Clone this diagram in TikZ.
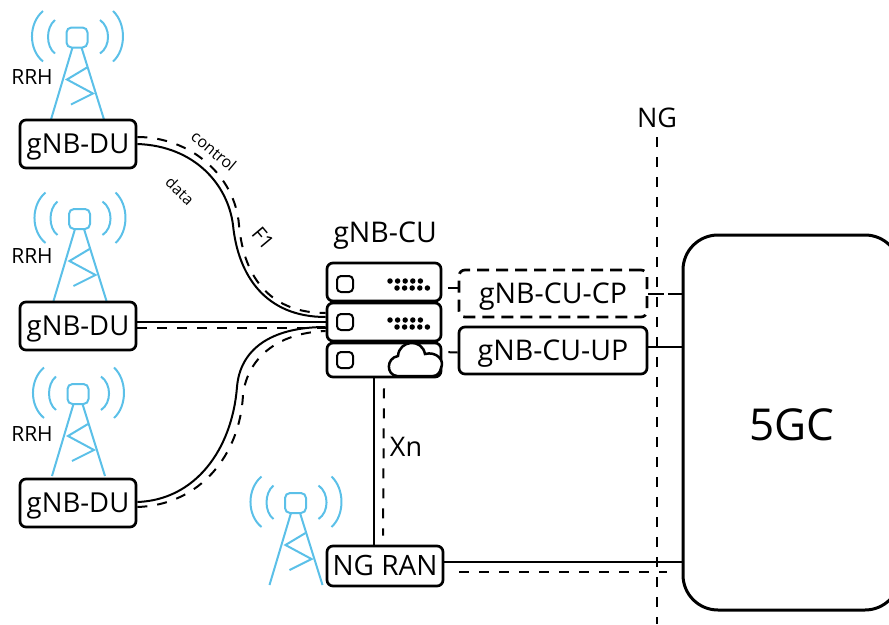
\documentclass[tikz,border=0pt]{standalone}
\usepackage{fontspec}
\setmainfont{Open Sans}
\usepackage{xcolor}
\usetikzlibrary{calc}
\definecolor{towerblue}{RGB}{91,192,232}
\tikzstyle{boxed}=[draw=black,fill=white,line width=2.7pt,rounded corners=6pt,inner sep=0pt,text height=19.6pt,text depth=0pt,font=\fontsize{28}{28}\selectfont]
\tikzstyle{server}=[draw=black,fill=white,line width=2.7pt,rounded corners=6pt,inner sep=0pt,minimum width=114pt]
\tikzstyle{link}=[line width=2pt]
\tikzstyle{dashlink}=[line width=2pt,dash pattern=on 10pt off 10pt]
\tikzstyle{stub}=[line width=2pt,dash pattern=on 0pt off 6pt on 10pt off 10pt]
\tikzstyle{dot}=[fill=black,circle,inner sep=0pt,minimum size=5.5pt]
\tikzset{rrhtower/.pic={
    \draw[towerblue,line width=2pt,rounded corners=5pt] (-10.5,-10) rectangle (10.5,10);
    \draw[towerblue,line width=2pt] (-4.5,10) -- (-26,82) (4.5,10) -- (27,82);
    \draw[towerblue,line width=2pt] (10,30) -- (-10,42) -- (16,56) -- (-6,67);
    \draw[towerblue,line width=2pt] (-22,-17.5) .. controls (-31.3,-10) and (-31.3,9) .. (-22,16);
    \draw[towerblue,line width=2pt] (-34,-26.5) .. controls (-48.7,-14) and (-48.7,12) .. (-34,24);
    \draw[towerblue,line width=2pt] (23,-17.5) .. controls (33.7,-10) and (33.7,9) .. (23,16);
    \draw[towerblue,line width=2pt] (36,-26.5) .. controls (49.3,-14) and (49.3,12) .. (36,24);
}}
\begin{document}
\begin{tikzpicture}[x=1pt,y=-1pt]
        \useasboundingbox (0,0) rectangle (889,624);

        \foreach \i/\x/\y in {1/77/37.5,2/79.5/219,3/78/394,4/295.5/503}{
          \pic at (\x,\y) {rrhtower};
        }
        \foreach \i/\y/\ly in {1/144/77,2/326/256,3/503/434}{
          \node[boxed,font=\fontsize{27.5}{27.5}\selectfont,minimum width=116pt,minimum height=48pt] (du\i) at (78,\y) {gNB-DU};
          \node[font=\fontsize{21}{21}\selectfont] (rrh\i) at (32,\ly) {RRH};
        }

        \node[server,minimum height=38pt] (cua) at (384,282) {};
        \node[server,minimum height=38pt] (cub) at (384,322) {};
        \node[server,minimum height=34pt] (cuc) at (384,360) {};
        \node[inner sep=0pt,text height=20pt,text depth=0pt,font=\fontsize{28.5}{28.5}\selectfont] (culabel) at (385,232) {gNB-CU};
        \foreach \y in {284,322,360}{
          \draw[line width=2pt,rounded corners=4pt] (337,\y-8) rectangle (353,\y+8);
        }
        \foreach \y in {281,320}{
          \foreach \j in {0,...,4}{
            \node[dot] at ($(390,\y)+(7.6*\j,0)$) {};
            \node[dot] at ($(397,\y+7)+(7.6*\j,0)$) {};
          }
        }
        \draw[line width=2.5pt,fill=white] (397,376) .. controls (386,375) and (386,358) .. (398,356)
          .. controls (399,340) and (422,338) .. (425,354)
          .. controls (436,351) and (445,360) .. (441,368)
          .. controls (440,373) and (437,376) .. (433,376) -- cycle;

        \node[boxed,font=\fontsize{28.5}{28.5}\selectfont,dash pattern=on 12pt off 7pt,minimum width=188pt,minimum height=47pt] (cp) at (553,293.5) {gNB-CU-CP};
        \node[boxed,font=\fontsize{28.5}{28.5}\selectfont,minimum width=188pt,minimum height=47pt] (up) at (553,350.5) {gNB-CU-UP};
        \node[boxed,minimum width=116pt,minimum height=40pt] (ran) at (385,566) {NG RAN};
        \node[boxed,line width=3pt,rounded corners=35pt,minimum width=217pt,minimum height=375pt] (core) at (791.5,422.5) {};
        \node[font=\fontsize{44}{44}\selectfont] (corelabel) at (792,425) {5GC};

        \node[font=\fontsize{27}{27}\selectfont] (nglabel) at (657,118) {NG};
        \coordinate (ngend) at (657,624);
        \draw[dashlink] (657,137) -- (ngend);

        \draw[link] ([yshift=0pt]du1.east) .. controls (195,146) and (228,185) .. (233,225)
          .. controls (238,275) and (265,317) .. ([yshift=5pt]cub.west);
        \draw[dashlink] ([yshift=7pt]du1.east) .. controls (190,137) and (235,175) .. (239,225)
          .. controls (244,280) and (272,313) .. ([yshift=9pt]cub.west);
        \draw[link] ([yshift=4pt]du2.east) -- ([yshift=0pt]cub.west);
        \draw[dashlink] ([yshift=-2pt]du2.east) -- ([yshift=-6pt]cub.west);
        \draw[link] ([yshift=1pt]du3.east) .. controls (195,500) and (232,450) .. (237,387)
          .. controls (240,350) and (270,327) .. ([yshift=-5pt]cub.west);
        \draw[dashlink] ([yshift=-4pt]du3.east) .. controls (200,505) and (240,455) .. (243,395)
          .. controls (247,360) and (275,333) .. ([yshift=-9pt]cub.west);

        \node[rotate=-40,font=\fontsize{16}{16}\selectfont] (control) at (214,151) {control};
        \node[rotate=-44,font=\fontsize{15.5}{15.5}\selectfont] (data) at (180,191) {data};
        \node[rotate=-50,font=\fontsize{20}{20}\selectfont] (fone) at (263,238) {F1};

        \draw[stub] ([yshift=-6pt]cua.east) -- ([yshift=5.5pt]cp.west);
        \draw[stub] ([yshift=8pt]cuc.east) -- ([yshift=-2pt]up.west);
        \draw[line width=2pt,dash pattern=on 16pt off 3.5pt] ([yshift=0pt]cp.east) -- (cp.east -| core.west);
        \draw[link] ([yshift=4pt]up.east) -- ($(up.east -| core.west)+(0,-4)$);
        \draw[link] ([yshift=4pt]ran.east) -- ($(ran.east -| core.west)+(0,-4)$);
        \draw[dashlink] ($(ran.east)+(15,6)$) -- ($(ran.east -| core.west)+(-15,6)$);

        \draw[link] ($(cuc.south)+(-10,0)$) -- ($(ran.north)+(-11,0)$);
        \draw[dashlink] ($(cuc.south)+(0,10)$) -- ($(ran.north)+(-2,-9)$);
        \node[font=\fontsize{27}{27}\selectfont] (xn) at (406,447) {Xn};
      \end{tikzpicture}
\end{document}
